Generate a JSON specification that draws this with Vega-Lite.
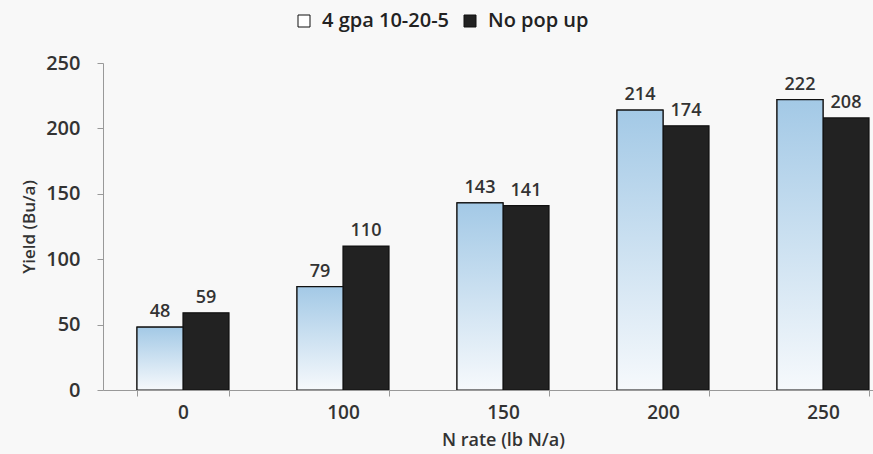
{
  "$schema": "https://vega.github.io/schema/vega-lite/v6.json",
  "width": 770,
  "height": 327,
  "autosize": {"type": "none"},
  "padding": {"left": 103, "top": 63, "right": 0, "bottom": 64},
  "background": "#f8f8f8",
  "config": {"font": "Open Sans", "view": {"stroke": null}},
  "data": {
    "values": [
      {"n_rate": "0", "series": "4 gpa 10-20-5", "yield": 48, "label": "48"},
      {"n_rate": "0", "series": "No pop up", "yield": 59, "label": "59"},
      {"n_rate": "100", "series": "4 gpa 10-20-5", "yield": 79, "label": "79"},
      {"n_rate": "100", "series": "No pop up", "yield": 110, "label": "110"},
      {"n_rate": "150", "series": "4 gpa 10-20-5", "yield": 143, "label": "143"},
      {"n_rate": "150", "series": "No pop up", "yield": 141, "label": "141"},
      {"n_rate": "200", "series": "4 gpa 10-20-5", "yield": 214, "label": "214"},
      {"n_rate": "200", "series": "No pop up", "yield": 202, "label": "174"},
      {"n_rate": "250", "series": "4 gpa 10-20-5", "yield": 222, "label": "222"},
      {"n_rate": "250", "series": "No pop up", "yield": 208, "label": "208"}
    ]
  },
  "encoding": {
    "x": {
      "field": "n_rate",
      "type": "nominal",
      "sort": ["0", "100", "150", "200", "250"],
      "scale": {"range": [0, 800], "paddingInner": 0.425, "paddingOuter": 0.2125},
      "axis": {
        "title": "N rate (lb N/a)",
        "labelAngle": 0,
        "tickBand": "extent",
        "domainColor": "#999999",
        "tickColor": "#999999",
        "tickSize": 6,
        "labelFontSize": 19,
        "labelFontWeight": 600,
        "labelColor": "#333333",
        "labelPadding": 7,
        "titleFontSize": 18,
        "titleFontWeight": 600,
        "titleColor": "#333333",
        "titlePadding": 9
      }
    },
    "xOffset": {"field": "series", "type": "nominal", "sort": ["4 gpa 10-20-5", "No pop up"]},
    "y": {
      "field": "yield",
      "type": "quantitative",
      "scale": {"domain": [0, 250]},
      "axis": {
        "title": "Yield (Bu/a)",
        "values": [0, 50, 100, 150, 200, 250],
        "grid": false,
        "domainColor": "#999999",
        "tickColor": "#999999",
        "tickSize": 6,
        "labelFontSize": 20,
        "labelFontWeight": 600,
        "labelColor": "#333333",
        "labelPadding": 17,
        "titleFontSize": 17,
        "titleFontWeight": 600,
        "titleColor": "#333333",
        "titlePadding": 7
      }
    }
  },
  "layer": [
    {
      "mark": {"type": "bar", "stroke": "#111111", "strokeWidth": 1.2, "clip": true},
      "encoding": {
        "color": {
          "field": "series",
          "type": "nominal",
          "scale": {"domain": ["4 gpa 10-20-5", "No pop up"], "range": ["#ffffff", "#222222"]},
          "legend": {
            "orient": "none",
            "direction": "horizontal",
            "legendX": 191,
            "legendY": -52,
            "title": null,
            "symbolType": "square",
            "symbolSize": 144,
            "symbolStrokeColor": "#111111",
            "symbolStrokeWidth": 1,
            "labelFontSize": 20,
            "labelFontWeight": 600,
            "labelColor": "#222222",
            "labelOffset": 8,
            "columnSpacing": 30
          }
        }
      }
    },
    {
      "transform": [{"filter": "datum.series == '4 gpa 10-20-5'"}],
      "mark": {
        "type": "bar",
        "clip": true,
        "stroke": "#111111",
        "strokeWidth": 1.2,
        "fill": {
          "gradient": "linear",
          "x1": 0, "y1": 0, "x2": 0, "y2": 1,
          "stops": [
            {"offset": 0, "color": "#a3c9e6"},
            {"offset": 1, "color": "#f6f9fc"}
          ]
        }
      }
    },
    {
      "mark": {"type": "text", "baseline": "bottom", "dy": -6, "fontSize": 18, "fontWeight": 600, "fill": "#333333", "clip": true},
      "encoding": {"text": {"field": "label"}}
    }
  ]
}
